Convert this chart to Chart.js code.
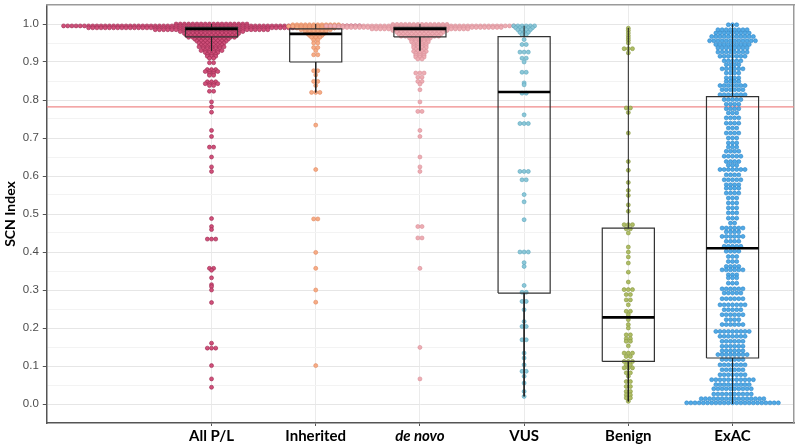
<!DOCTYPE html>
<html>
<head>
<meta charset="utf-8">
<script src="https://cdn.jsdelivr.net/npm/chart.js@4/dist/chart.umd.min.js"></script>
<style>html,body{margin:0;padding:0;background:#fff}</style>
</head>
<body>
<canvas id="chart" width="800" height="448"></canvas>
<script>
// categories (x positions 1..6)
const CATS = ["All P/L", "Inherited", "de novo", "VUS", "Benign", "ExAC"];

// swarm rows: [SCN index, number of dots in that row]
const allRows = [[1.000,18],[0.995,72],[0.990,60],[0.985,28],[0.980,16],[0.975,14],[0.970,13],[0.965,12],[0.960,9],[0.955,8],
  [0.950,7],[0.945,6],[0.940,7],[0.935,5],[0.930,6],[0.925,4],[0.920,3],[0.915,3],[0.910,2],[0.898,2],
  [0.880,3],[0.875,4],[0.870,2],[0.865,2],[0.848,3],[0.843,4],[0.838,2],[0.823,2],[0.795,1],[0.782,1],
  [0.768,1],[0.720,1],[0.704,1],[0.676,2],[0.650,1],[0.624,1],[0.612,1],[0.488,1],[0.467,1],[0.459,1],
  [0.434,3],[0.357,2],[0.352,1],[0.332,1],[0.314,1],[0.309,1],[0.300,1],[0.267,1],[0.160,1],[0.147,3],
  [0.101,1],[0.066,1],[0.044,1]];
const inhRows = [[0.998,12],[0.994,14],[0.990,10],[0.985,8],[0.980,6],[0.975,5],[0.970,4],[0.965,3],[0.958,2],[0.950,2],
  [0.938,2],[0.930,1],[0.919,2],[0.877,2],[0.866,1],[0.849,2],[0.838,1],[0.820,3],[0.734,1],[0.617,1],
  [0.487,2],[0.399,1],[0.357,1],[0.300,1],[0.268,1],[0.101,1]];
const novoRows = [[0.999,14],[0.995,46],[0.991,40],[0.987,24],[0.983,14],[0.978,12],[0.973,11],[0.968,10],[0.963,6],[0.958,5],
  [0.953,5],[0.948,4],[0.943,4],[0.938,4],[0.933,3],[0.928,4],[0.923,3],[0.918,3],[0.913,3],[0.908,2],
  [0.871,3],[0.860,2],[0.849,2],[0.842,1],[0.827,1],[0.795,1],[0.770,2],[0.720,1],[0.704,1],[0.650,1],
  [0.624,1],[0.612,1],[0.467,2],[0.437,2],[0.357,1],[0.149,1],[0.066,1]];
const vusRows = [[0.995,6],[0.990,5],[0.985,4],[0.978,3],[0.972,2],[0.959,1],[0.946,2],[0.926,3],[0.910,2],[0.900,1],
  [0.873,2],[0.845,1],[0.840,1],[0.818,2],[0.761,1],[0.738,3],[0.612,3],[0.590,2],[0.551,1],[0.532,1],
  [0.485,1],[0.400,3],[0.372,1],[0.362,1],[0.312,1],[0.294,2],[0.270,2],[0.248,1],[0.217,1],[0.204,2],
  [0.169,2],[0.134,1],[0.121,1],[0.103,1],[0.086,2],[0.073,1],[0.055,1],[0.033,1],[0.020,1]];
const benignRows = [[0.989,1],[0.983,1],[0.976,1],[0.969,1],[0.963,1],[0.957,1],[0.950,1],[0.935,3],[0.924,1],[0.779,2],
  [0.767,1],[0.713,1],[0.638,1],[0.615,1],[0.583,1],[0.562,1],[0.549,1],[0.524,1],[0.507,1],[0.472,3],
  [0.461,2],[0.450,1],[0.413,1],[0.400,1],[0.387,1],[0.371,1],[0.347,1],[0.321,1],[0.301,3],[0.288,2],
  [0.274,2],[0.261,1],[0.244,2],[0.235,1],[0.222,1],[0.209,1],[0.200,1],[0.182,2],[0.172,2],[0.165,2],
  [0.153,1],[0.134,3],[0.125,2],[0.112,3],[0.103,2],[0.095,3],[0.082,2],[0.073,1],[0.059,2],[0.046,2],
  [0.033,2],[0.024,2],[0.016,2],[0.007,1]];
const exacRows = [[0.998,3],[0.985,8],[0.976,9],[0.967,11],[0.956,12],[0.946,9],[0.937,8],[0.926,8],[0.915,7],[0.903,5],
  [0.893,4],[0.882,6],[0.871,4],[0.858,4],[0.849,4],[0.838,7],[0.827,6],[0.814,7],[0.801,5],[0.789,4],
  [0.777,4],[0.766,3],[0.753,4],[0.739,4],[0.726,3],[0.713,4],[0.700,3],[0.687,3],[0.676,3],[0.665,4],
  [0.652,5],[0.638,4],[0.628,3],[0.617,7],[0.603,4],[0.590,5],[0.577,4],[0.568,4],[0.555,4],[0.542,3],
  [0.529,3],[0.516,3],[0.503,3],[0.489,3],[0.476,2],[0.463,6],[0.453,4],[0.441,6],[0.428,4],[0.415,5],
  [0.402,4],[0.388,3],[0.375,3],[0.362,4],[0.353,6],[0.340,3],[0.332,3],[0.318,3],[0.303,6],[0.292,5],
  [0.277,6],[0.261,7],[0.248,5],[0.235,6],[0.222,4],[0.209,6],[0.191,9],[0.178,7],[0.165,6],[0.152,6],
  [0.140,6],[0.130,8],[0.117,6],[0.103,7],[0.090,6],[0.077,7],[0.064,11],[0.051,9],[0.040,10],[0.026,10],
  [0.014,16],[0.003,23]];

// box plot stats per category
const boxQ1  = [0.966, 0.900, 0.966, 0.292, 0.112, 0.121];
const boxMed = [0.987, 0.974, 0.987, 0.821, 0.228, 0.410];
const boxQ3  = [0.991, 0.987, 0.991, 0.967, 0.463, 0.809];
const whiskLo = [0.930, 0.820, 0.930, 0.020, 0.007, 0.000];
const whiskHi = [1.000, 1.000, 1.000, 0.995, 0.990, 1.000];

const CUTOFF = 0.782;
const X_MIN = -0.581, X_MAX = 6.59;

const fills   = ["#d0507a", "#f6ac86", "#eeadb3", "#8cc8d8", "#afbd66", "#52aae6"];
const borders = ["#9c2a50", "#e08a62", "#d98f98", "#5aa4bc", "#86973e", "#2a84c8"];

const DOT_STEP = 0.04;   // horizontal spacing of dots in a swarm row
const BOX_HALF = 0.25;

function swarm(pos, rows){
  const pts = [];
  rows.forEach(([v, n]) => {
    for(let i=0;i<n;i++) pts.push({x: pos + (i-(n-1)/2)*DOT_STEP, y: v});
  });
  return pts;
}

const groups = [allRows, inhRows, novoRows, vusRows, benignRows, exacRows];
const pointSets = groups.map((rows,i)=>({
  type:"scatter",
  label:CATS[i],
  data:swarm(i+1, rows),
  backgroundColor:fills[i],
  borderColor:borders[i],
  pointRadius:2,
  pointBorderWidth:0.6,
  order:10-i
}));

// boxes, whiskers and medians
const boxPts=[], whiskPts=[], medPts=[];
CATS.forEach((c,i)=>{
  const p=i+1;
  boxPts.push({x:p-BOX_HALF,y:boxQ1[i]},{x:p+BOX_HALF,y:boxQ1[i]},{x:p+BOX_HALF,y:boxQ3[i]},
              {x:p-BOX_HALF,y:boxQ3[i]},{x:p-BOX_HALF,y:boxQ1[i]},{x:p,y:null});
  whiskPts.push({x:p,y:boxQ3[i]},{x:p,y:whiskHi[i]},{x:p,y:null},{x:p,y:boxQ1[i]},{x:p,y:whiskLo[i]},{x:p,y:null});
  medPts.push({x:p-BOX_HALF,y:boxMed[i]},{x:p+BOX_HALF,y:boxMed[i]},{x:p,y:null});
});

const lineSet = (data, color, width, order) => ({
  type:"line", data, borderColor:color, borderWidth:width, pointRadius:0,
  fill:false, spanGaps:false, tension:0, order
});

new Chart(document.getElementById("chart"), {
  type:"scatter",
  data:{
    datasets:[
      lineSet([{x:X_MIN,y:CUTOFF},{x:X_MAX,y:CUTOFF}], "#ef8a8a", 1.2, 20),
      ...pointSets,
      lineSet(whiskPts, "#222", 1, 2),
      lineSet(boxPts, "#333", 1.2, 2),
      lineSet(medPts, "#000", 2.6, 1)
    ]
  },
  options:{
    responsive:false,
    animation:false,
    events:[],
    layout:{padding:{left:2, right:6, top:5, bottom:2}},
    plugins:{legend:{display:false}, tooltip:{enabled:false}},
    scales:{
      x:{
        type:"linear", min:X_MIN, max:X_MAX,
        afterBuildTicks: s => { s.ticks = CATS.map((c,i)=>({value:i+1})); },
        ticks:{
          autoSkip:false, maxRotation:0, padding:1, color:"#000",
          callback: v => CATS[v-1],
          font: ctx => ({family:"Lato", size:15, weight:"bold", style: ctx.tick && ctx.tick.value===3 ? "italic" : "normal"})
        },
        grid:{color:"#ebebeb", tickColor:"#555", tickLength:3},
        border:{color:"#555", width:1.5}
      },
      y:{
        min:-0.05, max:1.05,
        afterFit: s => { s.paddingTop = 0; s.paddingBottom = 0; },
        ticks:{
          stepSize:0.05, autoSkip:false, padding:4, color:"#4d4d4d",
          font:{family:"Liberation Sans", size:11.5},
          callback: v => {
            const r=Math.round(v*100);
            if(r<0 || r>100) return null;
            return r%10===0 ? (r/100).toFixed(1) : "";
          }
        },
        grid:{
          color: ctx => { const r=Math.round(ctx.tick.value*100); return r%10===0 ? "#e6e6e6" : "#f3f3f3"; },
          tickColor: ctx => { const r=Math.round(ctx.tick.value*100); return (r%10===0 && r>=0 && r<=100) ? "#555" : "rgba(0,0,0,0)"; },
          tickLength:4
        },
        border:{color:"#555", width:1.5},
        title:{display:true, text:"SCN Index", color:"#000", font:{family:"Lato", size:14, weight:"bold"}, padding:{top:0,bottom:0}}
      },
      xTop:{position:"top", ticks:{display:false}, grid:{display:false, drawTicks:false}, border:{color:"#9a9a9a", width:1.5}},
      yRight:{position:"right", ticks:{display:false}, grid:{display:false, drawTicks:false}, border:{color:"#9a9a9a", width:1.5}}
    }
  }
});
</script>
</body>
</html>
